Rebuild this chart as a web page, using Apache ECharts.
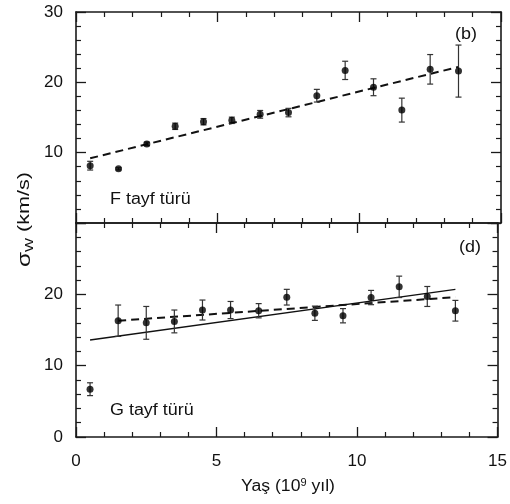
<!DOCTYPE html>
<html>
<head>
<meta charset="utf-8">
<script src="https://cdn.jsdelivr.net/npm/echarts@6/dist/echarts.min.js"></script>
<style>
html,body{margin:0;padding:0;background:#fff;}
#chart{width:510px;height:504px;}
</style>
</head>
<body>
<div id="chart"></div>
<script>
// ---- data ----
const ages = [0.5, 1.5, 2.5, 3.5, 4.5, 5.5, 6.5, 7.5, 8.5, 9.5, 10.5, 11.5, 12.5, 13.5];
const fSigma = [8.15, 7.7, 11.25, 13.75, 14.4, 14.6, 15.45, 15.7, 18.1, 21.7, 19.3, 16.05, 21.85, 21.6];
const fErr = [0.62, 0.15, 0.25, 0.45, 0.45, 0.45, 0.55, 0.6, 0.9, 1.3, 1.2, 1.7, 2.1, 3.7];
const gSigma = [6.7, 16.3, 16.0, 16.2, 17.8, 17.8, 17.7, 19.6, 17.35, 17.0, 19.55, 21.05, 19.7, 17.7];
const gErr = [0.9, 2.2, 2.3, 1.6, 1.4, 1.2, 1.0, 1.1, 1.0, 1.0, 1.0, 1.5, 1.4, 1.45];
const fFitX = [0.5, 13.5];
const fFitY = [9.2, 22.2];
const gFitX = [0.5, 13.5];
const gFitY = [13.6, 20.7];
const gFit2X = [1.5, 13.5];
const gFit2Y = [16.3, 19.6];
const xTicks = [0, 5, 10, 15];
const yTicks = [0, 10, 20, 30];

const FONT = '"Liberation Sans", Arial, sans-serif';
const AX = '#1a1a1a';

const zip = (xs, ys) => xs.map((x, i) => [x, ys[i]]);
const errData = (xs, ys, es) => xs.map((x, i) => [x, ys[i] - es[i], ys[i] + es[i]]);

function errRender(params, api) {
  const x = api.value(0), lo = api.value(1), hi = api.value(2);
  const p1 = api.coord([x, lo]);
  const p2 = api.coord([x, hi]);
  const hw = 3;
  const st = {stroke: '#333', lineWidth: 1.2};
  return {
    type: 'group',
    children: [
      {type: 'line', shape: {x1: p1[0], y1: p1[1], x2: p2[0], y2: p2[1]}, style: st},
      {type: 'line', shape: {x1: p1[0] - hw, y1: p1[1], x2: p1[0] + hw, y2: p1[1]}, style: st},
      {type: 'line', shape: {x1: p2[0] - hw, y1: p2[1], x2: p2[0] + hw, y2: p2[1]}, style: st}
    ]
  };
}

const LABEL = {fontSize: 17, fontFamily: FONT, color: '#111'};

function xAxisDef(gridIndex, position, showLabel) {
  return {
    type: 'value', gridIndex: gridIndex, position: position,
    min: xTicks[0], max: xTicks[xTicks.length - 1], interval: 5,
    axisLine: {show: true, onZero: false, lineStyle: {color: AX, width: 1.6}},
    axisTick: {show: true, inside: true, length: 10, lineStyle: {color: AX, width: 1.3}},
    minorTick: {show: true, splitNumber: 5, length: 5, lineStyle: {color: AX, width: 1.2}},
    axisLabel: Object.assign({show: showLabel, margin: 16}, LABEL),
    splitLine: {show: false}
  };
}
function yAxisDef(gridIndex, position, labelExtra) {
  return {
    type: 'value', gridIndex: gridIndex, position: position,
    min: yTicks[0], max: yTicks[yTicks.length - 1], interval: 10,
    axisLine: {show: true, onZero: false, lineStyle: {color: AX, width: 1.6}},
    axisTick: {show: true, inside: true, length: 10, lineStyle: {color: AX, width: 1.3}},
    minorTick: {show: true, splitNumber: 5, length: 5, lineStyle: {color: AX, width: 1.2}},
    axisLabel: labelExtra ? Object.assign({show: true, margin: 13}, LABEL, labelExtra) : {show: false},
    splitLine: {show: false}
  };
}

const txt = (x, y, text, extra) => Object.assign({
  type: 'text', x: x, y: y, scaleX: 1.12,
  style: {text: text, fontSize: 16, fontFamily: FONT, fill: '#111', align: 'left', verticalAlign: 'middle'}
}, extra || {});

const chart = echarts.init(document.getElementById('chart'), null, {renderer: 'canvas'});
const option = {
  backgroundColor: '#fff',
  animation: false,
  grid: [
    {left: 76, right: 9, top: 12, height: 211},
    {left: 76, right: 9, top: 223, height: 214}
  ],
  xAxis: [
    xAxisDef(0, 'bottom', false),
    xAxisDef(0, 'top', false),
    xAxisDef(1, 'bottom', true),
    xAxisDef(1, 'top', false)
  ],
  yAxis: [
    yAxisDef(0, 'left', {formatter: v => v === 0 ? '' : String(v)}),
    yAxisDef(0, 'right', null),
    yAxisDef(1, 'left', {formatter: v => v === 30 ? '' : String(v)}),
    yAxisDef(1, 'right', null)
  ],
  series: [
    {type: 'line', xAxisIndex: 0, yAxisIndex: 0, data: zip(fFitX, fFitY), showSymbol: false, symbol: 'none',
     lineStyle: {color: '#111', width: 2, type: [8, 5]}, z: 2},
    {type: 'custom', xAxisIndex: 0, yAxisIndex: 0, data: errData(ages, fSigma, fErr), renderItem: errRender, z: 3},
    {type: 'scatter', xAxisIndex: 0, yAxisIndex: 0, data: zip(ages, fSigma), symbol: 'circle', symbolSize: 7,
     itemStyle: {color: '#000'}, z: 4},
    {type: 'line', xAxisIndex: 2, yAxisIndex: 2, data: zip(gFitX, gFitY), showSymbol: false, symbol: 'none',
     lineStyle: {color: '#111', width: 1.3, type: 'solid'}, z: 2},
    {type: 'line', xAxisIndex: 2, yAxisIndex: 2, data: zip(gFit2X, gFit2Y), showSymbol: false, symbol: 'none',
     lineStyle: {color: '#111', width: 2, type: [8, 5]}, z: 2},
    {type: 'custom', xAxisIndex: 2, yAxisIndex: 2, data: errData(ages, gSigma, gErr), renderItem: errRender, z: 3},
    {type: 'scatter', xAxisIndex: 2, yAxisIndex: 2, data: zip(ages, gSigma), symbol: 'circle', symbolSize: 7,
     itemStyle: {color: '#000'}, z: 4}
  ],
  graphic: [
    txt(110, 200, 'F tayf türü'),
    txt(110, 411, 'G tayf türü'),
    txt(455, 35, '(b)'),
    txt(459, 248, '(d)'),
    {type: 'text', x: 288, y: 487, scaleX: 1.1,
     style: {text: '{n|Yaş (10}{s|9}{n| yıl)}', align: 'center', verticalAlign: 'middle', fill: '#111',
       rich: {
         n: {fontSize: 16, fontFamily: FONT, fill: '#111', lineHeight: 18},
         s: {fontSize: 10, fontFamily: FONT, fill: '#111', verticalAlign: 'top', lineHeight: 18, padding: [0, 0, 6, 0]}
       }}},
    {type: 'text', x: 25, y: 267, rotation: Math.PI / 2, scaleX: 1.35,
     style: {text: '{s|σ}{w|W}{n| (km/s)}', fill: '#111', align: 'left', verticalAlign: 'middle',
       rich: {
         s: {fontSize: 18, fontFamily: FONT, fill: '#111', lineHeight: 20},
         w: {fontSize: 11, fontFamily: FONT, fill: '#111', verticalAlign: 'bottom', lineHeight: 20, padding: [6, 0, 0, 0]},
         n: {fontSize: 16, fontFamily: FONT, fill: '#111', lineHeight: 20}
       }}}
  ]
};
chart.setOption(option);
</script>
</body>
</html>
